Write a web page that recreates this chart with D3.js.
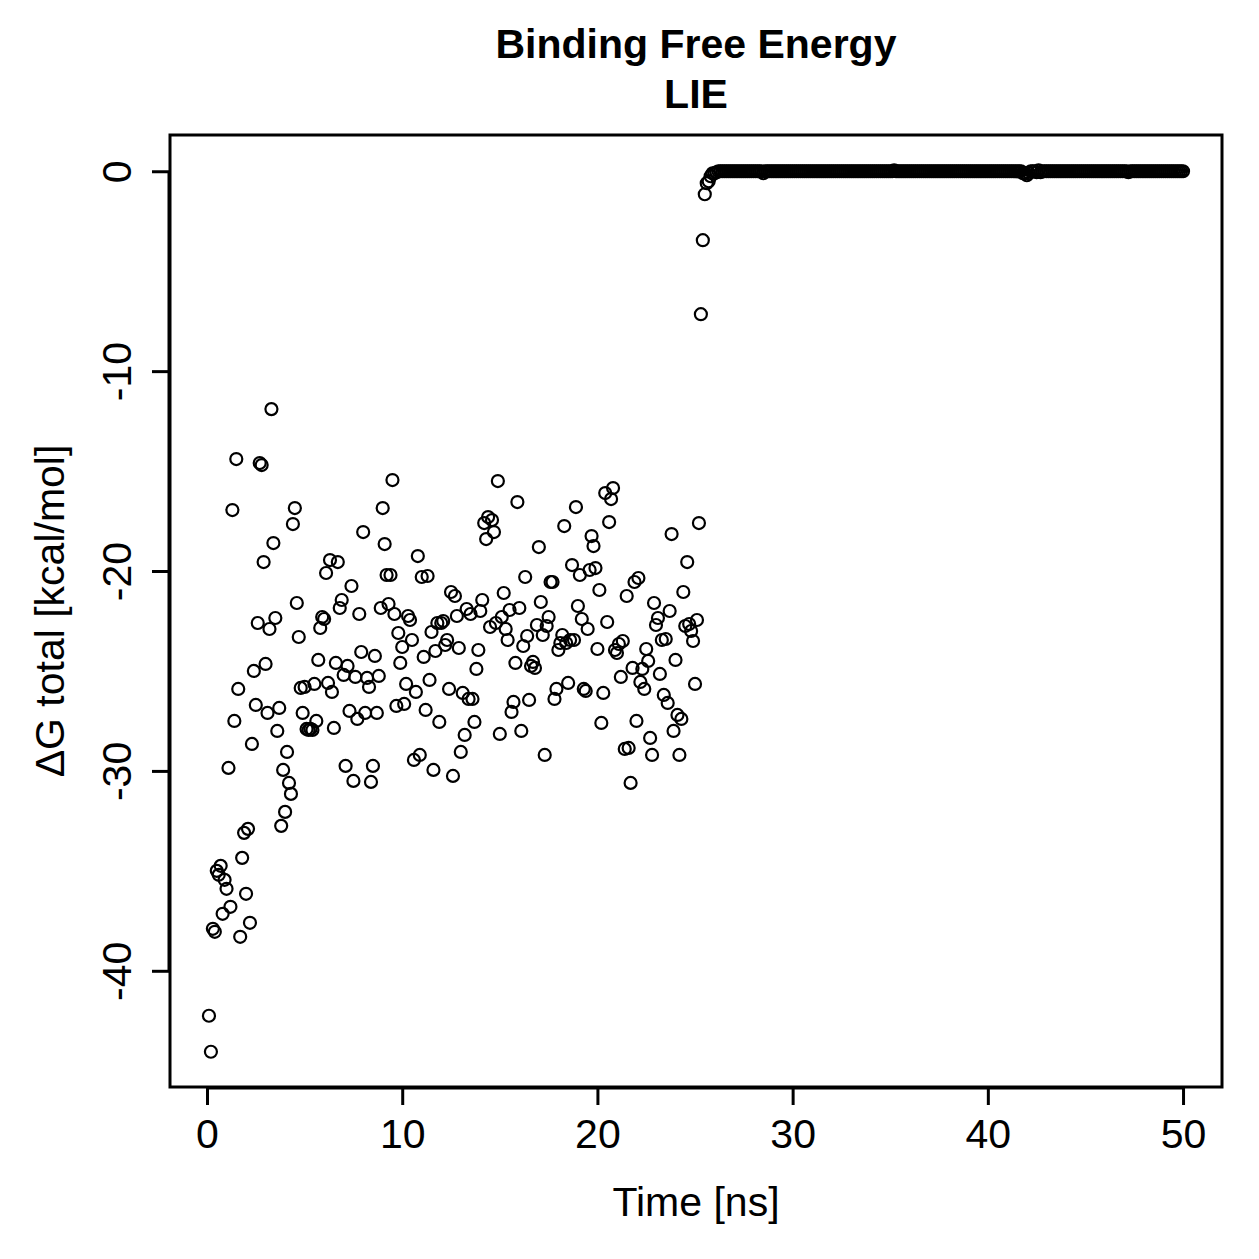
<!DOCTYPE html>
<html>
<head>
<meta charset="utf-8">
<script src="https://cdn.jsdelivr.net/npm/d3@7"></script>
<style>
  body { margin: 0; background: #fff; }
  text { font-family: "Liberation Sans", Arial, sans-serif; fill: #000; }
</style>
</head>
<body>
<script>
// Sampling interval of the trajectory (ns); frame i is at (i+1)*step
var timeStep = 0.1;

// dG total [kcal/mol] (0.1 - 25.9 ns)
var dgEarly = [
  -42.25, -44.05, -37.9, -38.05, -35.0, -35.2, -34.75, -37.15, -35.45, -35.9,
  -29.85, -36.8, -16.95, -27.5, -14.4, -25.9, -38.3, -34.35, -33.1, -36.15,
  -32.9, -37.6, -28.65, -25.0, -26.7, -22.6, -14.6, -14.7, -19.55, -24.65,
  -27.1, -22.9, -11.9, -18.6, -22.35, -28.0, -26.85, -32.75, -29.95, -32.05,
  -29.05, -30.6, -31.15, -17.65, -16.85, -21.6, -23.3, -25.85, -27.1, -25.8,
  -27.9, -27.95, -27.9, -27.95, -25.65, -27.5, -24.45, -22.85, -22.3, -22.4,
  -20.1, -25.6, -19.45, -26.05, -27.85, -24.6, -19.55, -21.85, -21.45, -25.2,
  -29.75, -24.75, -27.0, -20.75, -30.5, -25.3, -27.4, -22.15, -24.05, -18.05,
  -27.1, -25.35, -25.8, -30.55, -29.75, -24.25, -27.1, -25.25, -21.85, -16.85,
  -18.65, -20.2, -21.65, -20.2, -15.45, -22.15, -26.75, -23.1, -24.6, -23.8,
  -26.65, -25.65, -22.25, -22.45, -23.45, -29.45, -26.05, -19.25, -29.2, -20.3,
  -24.3, -26.95, -20.25, -25.45, -23.05, -29.95, -24.0, -22.6, -27.55, -22.6,
  -22.5, -23.7, -23.45, -25.9, -21.05, -30.25, -21.25, -22.25, -23.85, -29.05,
  -26.1, -28.2, -21.9, -26.4, -22.15, -26.4, -27.55, -24.9, -23.95, -22.0,
  -21.45, -17.6, -18.4, -17.3, -22.8, -17.45, -18.05, -22.6, -15.5, -28.15,
  -22.3, -21.1, -22.9, -23.45, -21.95, -27.05, -26.55, -24.6, -16.55, -21.85,
  -28.0, -23.75, -20.3, -23.25, -26.45, -24.75, -24.55, -24.85, -22.7, -18.8,
  -21.55, -23.2, -29.2, -22.75, -22.3, -20.55, -20.55, -26.4, -25.9, -23.95,
  -23.6, -23.2, -17.75, -23.6, -25.6, -23.45, -19.7, -23.45, -16.8, -21.75,
  -20.2, -22.4, -25.9, -26.0, -22.9, -19.95, -18.25, -18.75, -19.85, -23.9,
  -20.95, -27.6, -26.1, -16.1, -22.55, -17.55, -16.4, -15.85, -23.95, -24.1,
  -23.65, -25.3, -23.5, -28.9, -21.25, -28.85, -30.6, -24.85, -20.55, -27.5,
  -20.35, -25.55, -24.9, -25.9, -23.9, -24.5, -28.35, -29.2, -21.6, -22.7,
  -22.35, -25.15, -23.45, -26.2, -23.4, -26.6, -22.0, -18.15, -28.0, -24.45,
  -27.2, -29.2, -27.4, -21.05, -22.75, -19.55, -22.65, -23.0, -23.5, -25.65,
  -22.45, -17.6, -7.15, -3.45, -1.15, -0.6, -0.5, -0.25, -0.1
];

// dG total after unbinding (26.0 - 50.0 ns), flat at zero
var dgLate = [
  -0.1, -0.05, 0, 0, 0, 0, 0, 0, 0, 0,
  0, 0, 0, 0, 0, 0, 0, 0, 0, 0,
  0, 0, 0, 0, 0, -0.1, 0, 0, 0, 0,
  0, 0, 0, 0, 0, 0, 0, 0, 0, 0,
  0, 0, 0, 0, 0, 0, 0, 0, 0, 0,
  0, 0, 0, 0, 0, 0, 0, 0, 0, 0,
  0, 0, 0, 0, 0, 0, 0, 0, 0, 0,
  0, 0, 0, 0, 0, 0, 0, 0, 0, 0,
  0, 0, 0, 0, 0, 0, 0, 0, 0, 0,
  0, 0, 0.05, 0, 0, 0, 0, 0, 0, 0,
  0, 0, 0, 0, 0, 0, 0, 0, 0, 0,
  0, 0, 0, 0, 0, 0, 0, 0, 0, 0,
  0, 0, 0, 0, 0, 0, 0, 0, 0, 0,
  0, 0, 0, 0, 0, 0, 0, 0, 0, 0,
  0, 0, 0, 0, 0, 0, 0, 0, 0, 0,
  0, 0, 0, 0, 0, 0, 0, 0, -0.1, -0.1,
  -0.2, -0.1, 0, 0, 0, -0.05, 0.05, -0.05, 0, 0,
  0, 0, 0, 0, 0, 0, 0, 0, 0, 0,
  0, 0, 0, 0, 0, 0, 0, 0, 0, 0,
  0, 0, 0, 0, 0, 0, 0, 0, 0, 0,
  0, 0, 0, 0, 0, 0, 0, 0, 0, 0,
  0, 0, -0.05, 0, 0, 0, 0, 0, 0, 0,
  0, 0, 0, 0, 0, 0, 0, 0, 0, 0,
  0, 0, 0, 0, 0, 0, 0, 0, 0, 0,
  0
];

var xTicks = [0, 10, 20, 30, 40, 50];
var yTicks = [0, -10, -20, -30, -40];

var data = dgEarly.concat(dgLate).map((v, i) => ({t: +((i + 1) * timeStep).toFixed(1), v: v}));

var W = 1259, H = 1259;
var box = {left: 170, right: 1222, top: 135, bottom: 1087};

// R-style 4% padding on the data range
var tExt = d3.extent(data, d => d.t), vExt = d3.extent(data, d => d.v);
var tPad = (tExt[1] - tExt[0]) * 0.04, vPad = (vExt[1] - vExt[0]) * 0.04;

var x = d3.scaleLinear().domain([tExt[0] - tPad, tExt[1] + tPad]).range([box.left, box.right]);
var y = d3.scaleLinear().domain([vExt[0] - vPad, vExt[1] + vPad]).range([box.bottom, box.top]);

var svg = d3.select("body").append("svg")
  .attr("width", W)
  .attr("height", H);

// points
svg.append("g").selectAll("circle")
   .data(data)
   .enter().append("circle")
            .attr("cx", d => x(d.t))
            .attr("cy", d => y(d.v))
            .attr("r", 6)
            .attr("fill", "none")
            .attr("stroke", "#000")
            .attr("stroke-width", 2.2);

// frame
svg.append("rect")
   .attr("x", box.left)
   .attr("y", box.top)
   .attr("width", box.right - box.left)
   .attr("height", box.bottom - box.top)
   .attr("fill", "none")
   .attr("stroke", "#000")
   .attr("stroke-width", 3);

// x axis
var xAxis = d3.axisBottom(x).tickValues(xTicks).tickSize(17).tickPadding(14);
var gx = svg.append("g")
    .attr("transform", "translate(0," + (box.bottom + 1) + ")")
    .call(xAxis);
gx.select(".domain")
    .attr("d", "M" + x(xTicks[0]) + ",0H" + x(xTicks[xTicks.length - 1]))
    .attr("stroke-width", 3);
gx.selectAll(".tick line").attr("stroke-width", 3);
gx.selectAll(".tick text")
    .attr("font-size", 41)
    .attr("font-family", "Liberation Sans, Arial, sans-serif")
    .text(d => String(d));

// y axis, labels rotated like R's las = 0
var yAxis = d3.axisLeft(y).tickValues(yTicks).tickSize(17);
var gy = svg.append("g")
    .attr("transform", "translate(" + (box.left - 1) + ",0)")
    .call(yAxis);
gy.select(".domain")
    .attr("d", "M0," + y(yTicks[yTicks.length - 1]) + "V" + y(yTicks[0]))
    .attr("stroke-width", 3);
gy.selectAll(".tick line").attr("stroke-width", 3);
gy.selectAll(".tick text")
    .attr("font-size", 41)
    .attr("font-family", "Liberation Sans, Arial, sans-serif")
    .attr("x", null)
    .attr("dy", null)
    .attr("text-anchor", "middle")
    .attr("transform", "translate(-38,0) rotate(-90)")
    .text(d => String(d));

// titles
svg.append("text")
   .attr("x", (box.left + box.right) / 2)
   .attr("y", 58)
   .attr("text-anchor", "middle")
   .attr("font-size", 41)
   .attr("font-weight", "bold")
   .text("Binding Free Energy");

svg.append("text")
   .attr("x", (box.left + box.right) / 2)
   .attr("y", 108)
   .attr("text-anchor", "middle")
   .attr("font-size", 41)
   .attr("font-weight", "bold")
   .text("LIE");

svg.append("text")
   .attr("x", (box.left + box.right) / 2)
   .attr("y", 1216)
   .attr("text-anchor", "middle")
   .attr("font-size", 41)
   .text("Time [ns]");

svg.append("text")
   .attr("transform", "translate(64," + (box.top + box.bottom) / 2 + ") rotate(-90)")
   .attr("text-anchor", "middle")
   .attr("font-size", 41)
   .text("ΔG total [kcal/mol]");
</script>
</body>
</html>
